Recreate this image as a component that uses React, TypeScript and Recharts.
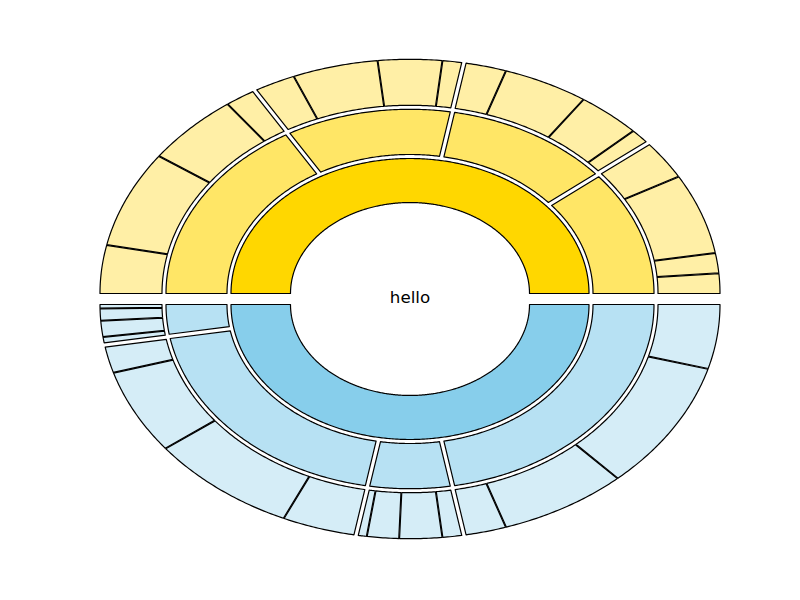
import React from 'react';
import { Cell, Pie, PieChart } from 'recharts';

// ring values, counter-clockwise from 3 o'clock
const innerValues = [180, 180];
const middleValues = [40, 40, 40, 60, 10, 70, 20, 80];
const outerValues = [
  5, 5, 20, 10, 4, 12, 16, 8, 4, 12, 16, 8, 6, 18, 24, 12,
  1, 3, 4, 2, 7, 21, 28, 14, 2, 6, 8, 4, 8, 24, 32, 16,
];
const innerColors = ['#FFD700', '#87CEEB'];
const middleColors = ['#FFE666', '#B7E1F3'];
const outerColors = ['#FFEFA6', '#D5EDF7'];
const centerLabel = 'hello';

const RAD = Math.PI / 180;
const ASPECT = 0.757; // axes are not square, so the pie is squashed
const EXPLODE = 5.5;
const RING_GAP = 2;

const sum = (values: number[]) => values.reduce((a, b) => a + b, 0);

const edges = (values: number[]) => {
  const total = sum(values);
  let acc = 0;
  return [0, ...values.map((v) => ((acc += v) / total) * 360)];
};

const topEdges = edges(innerValues);
const midEdges = edges(middleValues);
const near = (list: number[], a: number) => list.some((b) => Math.abs(b - a) < 0.01);
const edgeGap = (a: number) => (near(topEdges, a) ? 0 : near(midEdges, a) ? 2.2 : 0.4);

const halfOf = (values: number[], i: number) => {
  const e = edges(values);
  return (e[i] + e[i + 1]) / 2 < 180 ? 0 : 1;
};

const toData = (values: number[]) => values.map((value, i) => ({ name: `s${i}`, value }));

const innerData = toData(innerValues);
const middleData = toData(middleValues);
const outerData = toData(outerValues);

const point = (cx: number, cy: number, r: number, deg: number, off: number) => {
  const t = deg * RAD;
  const nx = ASPECT * Math.cos(t);
  const ny = -Math.sin(t);
  const n = Math.hypot(nx, ny);
  return [cx + r * Math.cos(t) + (off * nx) / n, cy - ASPECT * r * Math.sin(t) + (off * ny) / n];
};

// angle step (deg) that moves a point by `gap` px along the ellipse
const shift = (r: number, deg: number, gap: number) => {
  const t = deg * RAD;
  const speed = r * Math.hypot(Math.sin(t), ASPECT * Math.cos(t));
  return gap / speed / RAD;
};

const EllipseSector = (props: any) => {
  const { cx, cy, innerRadius, outerRadius, startAngle, endAngle, fill } = props;
  const mid = (startAngle + endAngle) / 2;
  let half = topEdges.findIndex((e, i) => i < topEdges.length - 1 && mid >= e && mid < topEdges[i + 1]);
  if (half < 0) half = 0;
  const bis = ((topEdges[half] + topEdges[half + 1]) / 2) * RAD;
  const ox = cx + EXPLODE * Math.cos(bis);
  const oy = cy - EXPLODE * Math.sin(bis);
  const gs = edgeGap(startAngle);
  const ge = edgeGap(endAngle);
  const steps = Math.max(8, Math.ceil(Math.abs(endAngle - startAngle) * 2));
  const pts: number[][] = [];
  const o0 = startAngle + shift(outerRadius, startAngle, gs);
  const o1 = endAngle - shift(outerRadius, endAngle, ge);
  for (let i = 0; i <= steps; i++) {
    pts.push(point(ox, oy, outerRadius, o0 + ((o1 - o0) * i) / steps, -RING_GAP));
  }
  const i0 = startAngle + shift(innerRadius, startAngle, gs);
  const i1 = endAngle - shift(innerRadius, endAngle, ge);
  for (let i = steps; i >= 0; i--) {
    pts.push(point(ox, oy, innerRadius, i0 + ((i1 - i0) * i) / steps, RING_GAP));
  }
  const d = 'M' + pts.map((p) => `${p[0].toFixed(2)},${p[1].toFixed(2)}`).join('L') + 'Z';
  return <path d={d} fill={fill} stroke="#000" strokeWidth={1.2} strokeLinejoin="round" />;
};

const CX = 410;
const CY = 299;

export default function App() {
  return (
    <div style={{ position: 'absolute', left: 0, top: 0, width: 800, height: 600, background: '#fff' }}>
      <PieChart width={800} height={600} margin={{ top: 0, right: 0, bottom: 0, left: 0 }}>
        <Pie
          data={innerData}
          dataKey="value"
          cx={CX}
          cy={CY}
          innerRadius={117.5}
          outerRadius={181}
          startAngle={0}
          endAngle={360}
          isAnimationActive={false}
          labelLine={false}
          shape={EllipseSector}
        >
          {innerData.map((d, i) => (
            <Cell key={d.name} fill={innerColors[halfOf(innerValues, i)]} />
          ))}
        </Pie>
        <Pie
          data={middleData}
          dataKey="value"
          cx={CX}
          cy={CY}
          innerRadius={181}
          outerRadius={246}
          startAngle={0}
          endAngle={360}
          isAnimationActive={false}
          labelLine={false}
          shape={EllipseSector}
        >
          {middleData.map((d, i) => (
            <Cell key={d.name} fill={middleColors[halfOf(middleValues, i)]} />
          ))}
        </Pie>
        <Pie
          data={outerData}
          dataKey="value"
          cx={CX}
          cy={CY}
          innerRadius={246}
          outerRadius={312}
          startAngle={0}
          endAngle={360}
          isAnimationActive={false}
          labelLine={false}
          shape={EllipseSector}
        >
          {outerData.map((d, i) => (
            <Cell key={d.name} fill={outerColors[halfOf(outerValues, i)]} />
          ))}
        </Pie>
      </PieChart>
      <svg width={800} height={600} style={{ position: 'absolute', left: 0, top: 0, pointerEvents: 'none' }}>
        <text x={CX} y={303.3} textAnchor="middle" fontFamily="DejaVu Sans" fontSize={16.7} fill="#000">
          {centerLabel}
        </text>
      </svg>
    </div>
  );
}
